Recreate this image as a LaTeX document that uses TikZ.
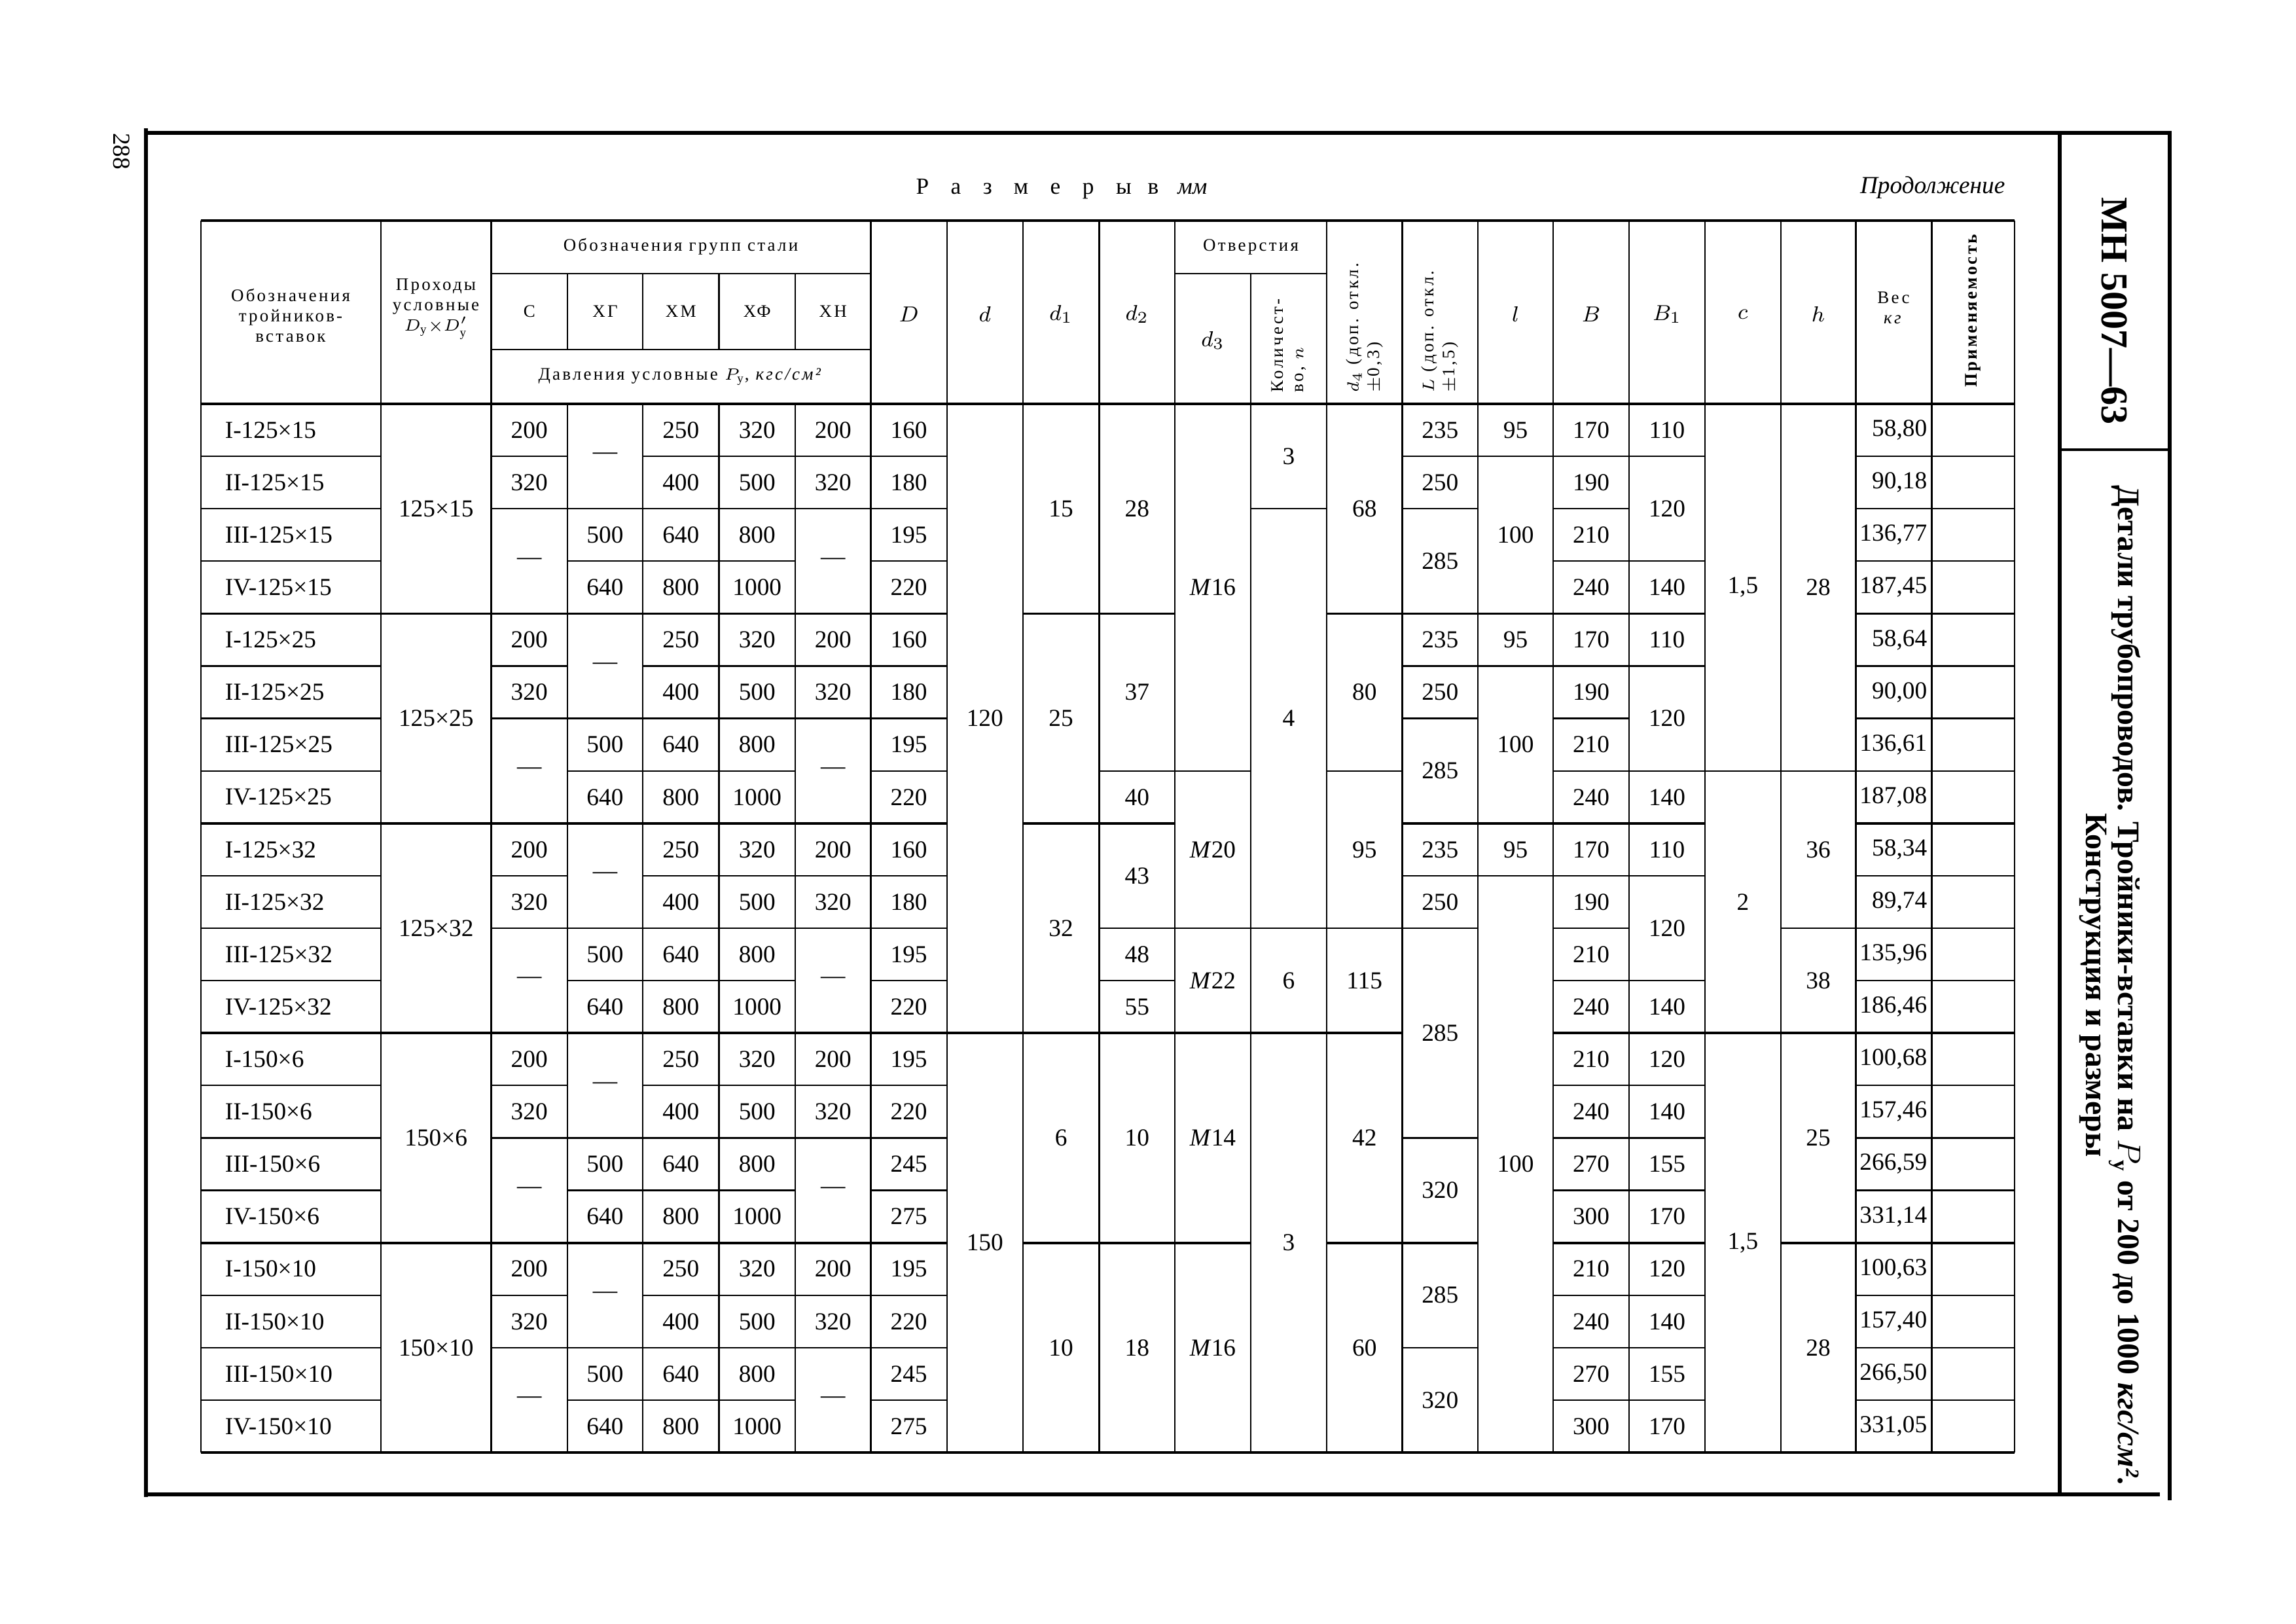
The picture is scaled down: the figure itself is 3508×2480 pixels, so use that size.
\documentclass[tikz,border=0pt]{standalone}
\usepackage{amsmath}
\usepackage{fontspec}
\setmainfont{Liberation Serif}
\newfontfamily\hdfont[LetterSpace=12]{Liberation Serif}
\newfontfamily\spacedfont[LetterSpace=95]{Liberation Serif}

% column edges of the table (sheet pixels)
\def\cx{{307,582,750.5,867,982,1098.5,1215,1330.5,1446.7,1562.8,1679.5,1795,1911,2027,2142.5,2258,2373,2489,2605,2720.7,2835.5,2951.5,3077.8}}

% left and right edge of column #1 into \xl and \xr
\newcommand{\coledges}[1]{%
  \pgfmathtruncatemacro{\ci}{#1}%
  \pgfmathtruncatemacro{\cn}{#1+1}%
  \pgfmathsetmacro{\xl}{\cx[\ci]}%
  \pgfmathsetmacro{\xr}{\cx[\cn]}}

% text in column #1 over rows #2..#3
\newcommand{\putcell}[4]{%
  \coledges{#1}%
  \pgfmathsetmacro{\cellx}{(\xl+\xr)/2}%
  \pgfmathsetmacro{\celly}{617+80.1*(#2+#3+1)/2}%
  \node[num] (c-#1-#2) at (\cellx,\celly) {#4};}

% rule on row line #1 from column #2 to column #3
\newcommand{\hrow}[4]{%
  \coledges{#2}\let\xa\xl
  \coledges{#3}\let\xb\xr
  \pgfmathsetmacro{\yk}{617+80.1*#1}%
  \draw[#4] (\xa,\yk) -- (\xb,\yk);}

\begin{document}
\begin{tikzpicture}[x=0.0084664cm,y=-0.0084664cm,
  thinrule/.style={line width=0.55pt},
  grprule/.style={line width=0.9pt},
  framerule/.style={line width=1.6pt},
  num/.style={font=\fontsize{9}{10}\selectfont,inner sep=0pt},
  hd/.style={font=\fontsize{6.5}{7.5}\selectfont\hdfont,inner sep=0pt,align=center},
  sym/.style={font=\fontsize{8.5}{9}\selectfont,inner sep=0pt}]
\useasboundingbox (0,0) rectangle (3508,2480);

% sheet frame and title block
\draw[framerule] (223,196) -- (223,2287);
\draw[framerule] (223,203) -- (3318,203);
\draw[framerule] (223,2283) -- (3300,2283);
\draw[framerule] (3147,203) -- (3147,2283);
\draw[framerule] (3315,203) -- (3315,2292);
\draw[grprule] (3147,687) -- (3315,687);
\node[rotate=-90] (pagenum) at (186,231) {\fontsize{9}{10}\selectfont 288};
\node[rotate=-90] (sheetno) at (3230,475) {\fontsize{14}{16}\selectfont\bfseries МН 5007—63};
\node[rotate=-90,align=center,font=\fontsize{11.5}{11.8}\selectfont\bfseries] (sheettitle) at (3224,1505) {Детали трубопроводов. Тройники-вставки на $P_{\text{у}}$ от 200 до 1000 \textit{кгс/см²}.\\Конструкция и размеры};
\node (dims) at (1622,289) {\fontsize{8.5}{9}\selectfont{\spacedfont Размеры}\hspace{6pt}{\spacedfont в}\hspace{7pt}\textit{мм}};
\node[anchor=east] (cont) at (3078,287) {\fontsize{9}{10}\selectfont\itshape Продолжение};

% header rules
\draw[grprule] (307,337) -- (3077.8,337);
\draw[thinrule] (750.5,418) -- (1330.5,418);
\draw[thinrule] (1795,418) -- (2027,418);
\draw[thinrule] (750.5,534) -- (1330.5,534);
\draw[grprule] (307,617) -- (3077.8,617);
\foreach \j in {0,1,2,7,8,9,10,11,13,14,15,16,17,18,19,20,21,22} {
  \pgfmathsetmacro{\xx}{\cx[\j]}
  \draw[thinrule] (\xx,337) -- (\xx,617);
}
\foreach \j in {3,...,6} {
  \pgfmathsetmacro{\xx}{\cx[\j]}
  \draw[thinrule] (\xx,418) -- (\xx,534);
}
\draw[thinrule] (1911,418) -- (1911,617);

% header text
\node[hd] (h-desig) at (444,482) {Обозначения\\тройников-\\вставок};
\node[hd] (h-pass) at (666,472) {Проходы\\условные\\$D_{\text{у}}{\times}D'_{\text{у}}$};
\node[hd] (h-steel) at (1040,377) {Обозначения групп стали};
\foreach \j/\txt in {2/С,3/ХГ,4/ХМ,5/ХФ,6/ХН} {
  \coledges{\j}
  \pgfmathsetmacro{\xx}{(\xl+\xr)/2}
  \node[hd] (h-grp-\j) at (\xx,476) {\txt};
}
\node[hd] (h-press) at (1040,576) {Давления условные $P_{\text{у}}$, \textit{кгс/см²}};
\node[hd] (h-holes) at (1911,377) {Отверстия};
\foreach \j/\txt in {7/D,8/d,9/d_1,10/d_2,15/l,16/B,17/B_1,18/c,19/h} {
  \coledges{\j}
  \pgfmathsetmacro{\xx}{(\xl+\xr)/2}
  \node[sym] (h-sym-\j) at (\xx,480) {$\txt$};
}
\node[sym] (h-d3) at (1853,520) {$d_3$};
\node[hd,rotate=90,anchor=west,align=left] (h-count) at (1969,600) {Количест-\\во, $n$};
\node[hd,rotate=90,anchor=west,align=left] (h-d4) at (2085,600) {$d_4$ (доп. откл.\\$\pm$0,3)};
\node[hd,rotate=90,anchor=west,align=left] (h-len) at (2200,600) {$L$ (доп. откл.\\$\pm$1,5)};
\node[hd] (h-mass) at (2893,470) {Вес\\\textit{кг}};
\node[hd,rotate=90,font=\fontsize{6.5}{7.5}\selectfont\hdfont\bfseries] (h-use) at (3015,475) {Применяемость};

% body verticals and bottom
\foreach \j in {0,...,22} {
  \pgfmathsetmacro{\xx}{\cx[\j]}
  \draw[thinrule] (\xx,617) -- (\xx,2219);
}
\draw[grprule] (307,2219) -- (3077.8,2219);

% the five groups of four tees
\foreach \g/\sz/\Da/\Db/\Dc/\Dd in {0/125×15/160/180/195/220,1/125×25/160/180/195/220,2/125×32/160/180/195/220,3/150×6/195/220/245/275,4/150×10/195/220/245/275} {
  \pgfmathtruncatemacro{\ra}{4*\g}
  \pgfmathtruncatemacro{\rb}{4*\g+1}
  \pgfmathtruncatemacro{\rc}{4*\g+2}
  \pgfmathtruncatemacro{\rd}{4*\g+3}
  \foreach \r/\rn in {\ra/I,\rb/II,\rc/III,\rd/IV} {
    \pgfmathsetmacro{\yy}{617+80.1*(\r+0.5)}
    \node[num,anchor=west] (lab-\r) at (343,\yy) {\rn-\sz};
  }
  \putcell{1}{\ra}{\rd}{\sz}
  \putcell{2}{\ra}{\ra}{200}
  \putcell{2}{\rb}{\rb}{320}
  \putcell{2}{\rc}{\rd}{—}
  \putcell{3}{\ra}{\rb}{—}
  \putcell{3}{\rc}{\rc}{500}
  \putcell{3}{\rd}{\rd}{640}
  \putcell{4}{\ra}{\ra}{250}
  \putcell{4}{\rb}{\rb}{400}
  \putcell{4}{\rc}{\rc}{640}
  \putcell{4}{\rd}{\rd}{800}
  \putcell{5}{\ra}{\ra}{320}
  \putcell{5}{\rb}{\rb}{500}
  \putcell{5}{\rc}{\rc}{800}
  \putcell{5}{\rd}{\rd}{1000}
  \putcell{6}{\ra}{\ra}{200}
  \putcell{6}{\rb}{\rb}{320}
  \putcell{6}{\rc}{\rd}{—}
  \putcell{7}{\ra}{\ra}{\Da}
  \putcell{7}{\rb}{\rb}{\Db}
  \putcell{7}{\rc}{\rc}{\Dc}
  \putcell{7}{\rd}{\rd}{\Dd}
  % rules inside the group
  \hrow{\rb}{0}{0}{thinrule}
  \hrow{\rb}{2}{2}{thinrule}
  \hrow{\rb}{4}{7}{thinrule}
  \hrow{\rc}{0}{0}{thinrule}
  \hrow{\rc}{2}{7}{thinrule}
  \hrow{\rd}{0}{0}{thinrule}
  \hrow{\rd}{3}{5}{thinrule}
  \hrow{\rd}{7}{7}{thinrule}
}

% B and B1
\foreach \g in {0,1,2} {
  \pgfmathtruncatemacro{\ra}{4*\g}
  \pgfmathtruncatemacro{\rb}{4*\g+1}
  \pgfmathtruncatemacro{\rc}{4*\g+2}
  \pgfmathtruncatemacro{\rd}{4*\g+3}
  \putcell{16}{\ra}{\ra}{170}
  \putcell{16}{\rb}{\rb}{190}
  \putcell{16}{\rc}{\rc}{210}
  \putcell{16}{\rd}{\rd}{240}
  \putcell{17}{\ra}{\ra}{110}
  \putcell{17}{\rb}{\rc}{120}
  \putcell{17}{\rd}{\rd}{140}
}
\foreach \g in {3,4} {
  \pgfmathtruncatemacro{\ra}{4*\g}
  \pgfmathtruncatemacro{\rb}{4*\g+1}
  \pgfmathtruncatemacro{\rc}{4*\g+2}
  \pgfmathtruncatemacro{\rd}{4*\g+3}
  \putcell{16}{\ra}{\ra}{210}
  \putcell{16}{\rb}{\rb}{240}
  \putcell{16}{\rc}{\rc}{270}
  \putcell{16}{\rd}{\rd}{300}
  \putcell{17}{\ra}{\ra}{120}
  \putcell{17}{\rb}{\rb}{140}
  \putcell{17}{\rc}{\rc}{155}
  \putcell{17}{\rd}{\rd}{170}
}

% merged cells of the other columns
\foreach \j/\ra/\rb/\txt in {8/0/11/120,8/12/19/150,
  9/0/3/15,9/4/7/25,9/8/11/32,9/12/15/6,9/16/19/10,
  10/0/3/28,10/4/6/37,10/7/7/40,10/8/9/43,10/10/10/48,10/11/11/55,10/12/15/10,10/16/19/18,
  11/0/6/\textit{M}16,11/7/9/\textit{M}20,11/10/11/\textit{M}22,11/12/15/\textit{M}14,11/16/19/\textit{M}16,
  12/0/1/3,12/2/9/4,12/10/11/6,12/12/19/3,
  13/0/3/68,13/4/6/80,13/7/9/95,13/10/11/115,13/12/15/42,13/16/19/60,
  14/0/0/235,14/1/1/250,14/2/3/285,14/4/4/235,14/5/5/250,14/6/7/285,14/8/8/235,14/9/9/250,14/10/13/285,14/14/15/320,14/16/17/285,14/18/19/320,
  15/0/0/95,15/1/3/100,15/4/4/95,15/5/7/100,15/8/8/95,15/9/19/100,
  18/0/6/{1,5},18/7/11/2,18/12/19/{1,5},
  19/0/6/28,19/7/9/36,19/10/11/38,19/12/15/25,19/16/19/28}
  {\putcell{\j}{\ra}{\rb}{\txt}}

% weights
\foreach \r/\w in {0/{58,80},1/{90,18},2/{136,77},3/{187,45},4/{58,64},5/{90,00},6/{136,61},7/{187,08},8/{58,34},9/{89,74},10/{135,96},11/{186,46},12/{100,68},13/{157,46},14/{266,59},15/{331,14},16/{100,63},17/{157,40},18/{266,50},19/{331,05}} {
  \pgfmathsetmacro{\yy}{617+80.1*(\r+0.5)}
  \node[num,anchor=east] (w-\r) at (2945,\yy) {\w};
}

% group rules
\foreach \kk/\ca/\cb in {4/0/7,4/9/10,4/13/17,4/20/21,8/0/7,8/9/10,8/14/17,8/20/21,12/0/13,12/16/21,16/0/7,16/9/11,16/13/14,16/16/17,16/19/21}
  {\hrow{\kk}{\ca}{\cb}{grprule}}
% rules right of D
\foreach \kk/\ca/\cb in {1/14/17,1/20/21,2/12/12,2/14/14,2/16/16,2/20/21,3/16/17,3/20/21,
  5/14/17,5/20/21,6/14/14,6/16/16,6/20/21,7/10/11,7/13/13,7/16/21,
  9/14/17,9/20/21,10/10/14,10/16/16,10/19/21,11/10/10,11/16/17,11/20/21,
  13/16/17,13/20/21,14/14/14,14/16/17,14/20/21,15/16/17,15/20/21,
  17/16/17,17/20/21,18/14/14,18/16/17,18/20/21,19/16/17,19/20/21}
  {\hrow{\kk}{\ca}{\cb}{thinrule}}

\end{tikzpicture}
\end{document}
